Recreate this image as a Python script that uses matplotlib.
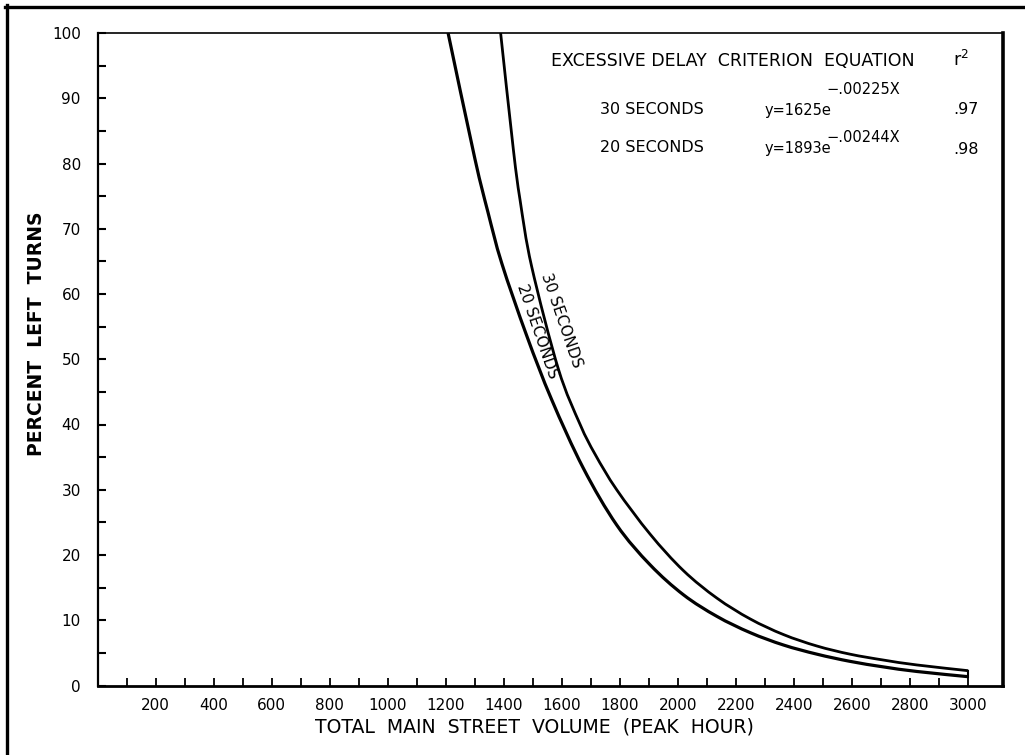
import matplotlib
matplotlib.use("Agg")
import matplotlib.pyplot as plt
from matplotlib.lines import Line2D
from matplotlib.path import Path
from matplotlib.patches import PathPatch

# values
VOL_20 = [1208, 1300, 1345, 1393, 1479, 1565, 1674, 1789, 1904, 2019,
          2134, 2249, 2364, 2479, 2593, 2708, 2823, 3000]
PCT_20 = [100, 80.8, 72.6, 64.7, 53.6, 43.8, 33.3, 24.6, 18.5, 13.9,
          10.6, 8.1, 6.2, 4.8, 3.7, 2.85, 2.15, 1.35]

VOL_30 = [1389, 1433, 1456, 1496, 1588, 1663, 1715, 1789, 1904, 2019,
          2134, 2249, 2364, 2479, 2593, 2708, 2823, 3000]
PCT_30 = [100, 82.1, 74.4, 64.2, 48.5, 40.0, 35.4, 30.0, 23.2, 17.6,
          13.4, 10.2, 7.8, 6.05, 4.8, 3.9, 3.15, 2.27]

X_LABELS = list(range(200, 3001, 200))
X_MARKS = list(range(100, 3001, 100))
Y_LABELS = list(range(0, 101, 10))
Y_MINOR = list(range(5, 100, 10))

ROWS = [("30 SECONDS", "y=1625e", "\u2212.00225X", ".97"),
        ("20 SECONDS", "y=1893e", "\u2212.00244X", ".98")]

W, H = 1025, 755
plt.rcParams["font.family"] = ["DejaVu Sans"]


def px(x, y):
    # pixel position (from top-left) -> figure fraction
    return x / W, 1 - y / H


def smooth_path(xs, ys):
    # hand-drawn look: bezier segments through the read points
    pts = list(zip(xs, ys))
    verts, codes = [pts[0]], [Path.MOVETO]
    for i in range(len(pts) - 1):
        p0 = pts[i - 1] if i > 0 else pts[i]
        p1, p2 = pts[i], pts[i + 1]
        p3 = pts[i + 2] if i + 2 < len(pts) else p2
        c1 = (p1[0] + (p2[0] - p0[0]) / 6, p1[1] + (p2[1] - p0[1]) / 6)
        c2 = (p2[0] - (p3[0] - p1[0]) / 6, p2[1] - (p3[1] - p1[1]) / 6)
        verts += [c1, c2, p2]
        codes += [Path.CURVE4] * 3
    return Path(verts, codes)


fig = plt.figure(figsize=(W / 100, H / 100), dpi=100)
fig.patch.set_facecolor("white")

x0, y1 = px(97.5, 33)
x1, y0 = px(1003, 685.5)
ax = fig.add_axes([x0, y0, x1 - x0, y1 - y0])

ax.add_patch(PathPatch(smooth_path(VOL_20, PCT_20), fill=False,
                       edgecolor="black", lw=2.3, capstyle="butt"))
ax.add_patch(PathPatch(smooth_path(VOL_30, PCT_30), fill=False,
                       edgecolor="black", lw=2.0, capstyle="butt"))
ax.plot([VOL_20[-1], VOL_30[-1]], [PCT_20[-1], PCT_30[-1]],
        color="black", lw=1.5)

ax.set_xlim(0, 3120)
ax.set_ylim(0, 100)

ax.set_xticks(X_MARKS, minor=True)
ax.set_xticks(X_LABELS)
ax.set_xticklabels([str(v) for v in X_LABELS], fontsize=11)
ax.set_yticks(Y_LABELS)
ax.set_yticks(Y_MINOR, minor=True)
ax.set_yticklabels([str(v) for v in Y_LABELS], fontsize=11)

ax.tick_params(axis="x", which="both", direction="in", length=6,
               width=1.3, pad=9, color="black")
ax.tick_params(axis="y", which="both", direction="in", length=6,
               width=1.5, pad=12, color="black")

ax.spines["left"].set_linewidth(1.6)
ax.spines["bottom"].set_linewidth(2.0)
ax.spines["right"].set_linewidth(2.6)
ax.spines["top"].set_linewidth(1.2)

# curve labels written along the lines
ax.text(1600, 55.9, "30 SECONDS", rotation=-71, fontsize=11,
        ha="center", va="center", rotation_mode="anchor")
ax.text(1514, 54.3, "20 SECONDS", rotation=-71, fontsize=11,
        ha="center", va="center", rotation_mode="anchor")

# equation table in the upper right
fig.text(*px(551, 61), "EXCESSIVE DELAY  CRITERION  EQUATION",
         fontsize=12.5, ha="left", va="center")
fig.text(*px(953, 60), r"r$^\mathregular{2}$", fontsize=12.5,
         ha="left", va="center")

row_y = [(109, 90), (148, 137)]
for (crit, base, expo, r2), (yb, ye) in zip(ROWS, row_y):
    fig.text(*px(600, yb), crit, fontsize=11.5, ha="left", va="center")
    fig.text(*px(765, yb + 1), base, fontsize=10.5, ha="left", va="center")
    fig.text(*px(826, ye), expo, fontsize=10.5, ha="left", va="center")
    fig.text(*px(953, yb + 1), r2, fontsize=11.5, ha="left", va="center")

fig.text(*px(534, 727), "TOTAL  MAIN  STREET  VOLUME  (PEAK  HOUR)",
         fontsize=13.6, ha="center", va="center")
fig.text(*px(37, 334), "PERCENT  LEFT  TURNS", fontsize=13.5,
         fontweight="bold", rotation=90, ha="center", va="center")

# frame drawn on the page (left and top edges only)
fig.add_artist(Line2D([7 / W, 7 / W], [0, 1 - 5 / H], color="black",
                      lw=2.4, transform=fig.transFigure))
fig.add_artist(Line2D([5 / W, 1], [1 - 7 / H, 1 - 7 / H], color="black",
                      lw=2.4, transform=fig.transFigure))

fig.savefig("out.png", dpi=100)
